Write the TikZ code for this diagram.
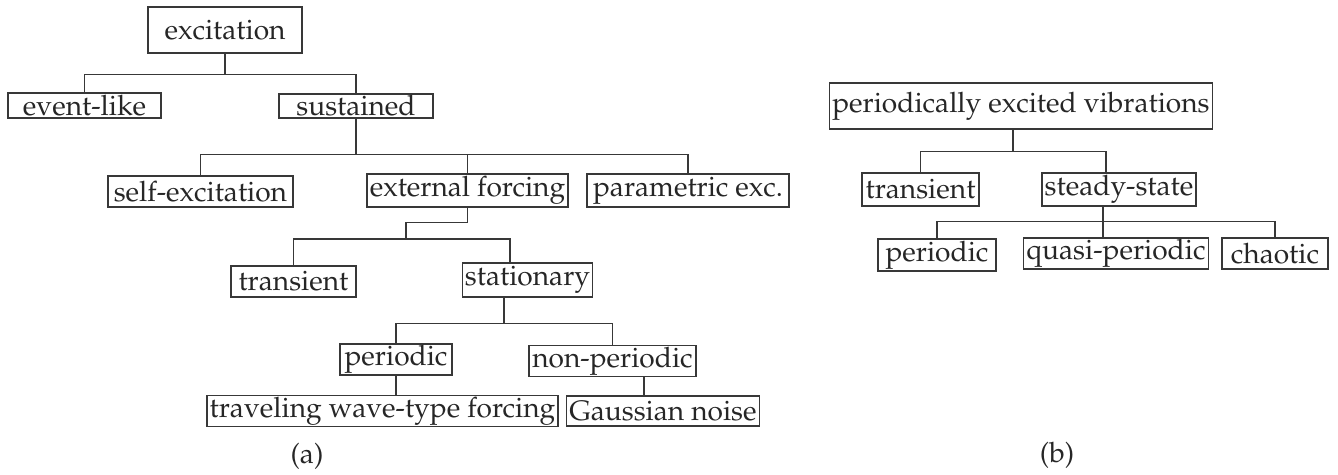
\documentclass[tikz,border=0pt]{standalone}
\usepackage[T1]{fontenc}
\usepackage{mathpazo}
\usepackage{tikz}
\tikzset{box/.style = {draw, inner xsep=1pt, inner ysep=0.5pt}}
\definecolor{mgray}{rgb}{0.22, 0.22, 0.22}

\begin{document}
\begin{tikzpicture}[line width=0.5pt, mgray, text=black!85,
                    every node/.style={font=\fontsize{10.3}{12}\selectfont}]
      \useasboundingbox (0, 0) rectangle (17.22, 6.113);

      % (a) excitation tree
      \node [box, minimum width=1.982cm, minimum height=0.592cm] (exc) at (2.896, 5.727) {excitation};
      \node [box, minimum width=1.969cm, minimum height=0.322cm] (evt) at (1.088, 4.756) {event-like};
      \node [box, minimum width=1.982cm, minimum height=0.309cm] (sus) at (4.582, 4.749) {sustained};

      \node [box, minimum width=2.381cm, minimum height=0.399cm] (self) at (2.580, 3.649) {self-excitation};
      \node [box, minimum width=2.587cm, minimum height=0.425cm] (ext) at (6.017, 3.662) {external forcing};
      \node [box, minimum width=2.600cm, minimum height=0.425cm] (par) at (8.855, 3.662) {parametric exc.};

      \node [box, minimum width=1.609cm, minimum height=0.399cm] (tra) at (3.777, 2.490) {transient};
      \node [box, minimum width=1.660cm, minimum height=0.438cm] (sta) at (6.789, 2.510) {stationary};

      \node [box, minimum width=1.441cm, minimum height=0.373cm] (per) at (5.097, 1.486) {periodic};
      \node [box, minimum width=2.149cm, minimum height=0.386cm] (non) at (7.883, 1.467) {non-periodic};

      \node [box, minimum width=4.414cm, minimum height=0.386cm] (trv) at (4.923, 0.824) {traveling wave-type forcing};
      \node [box, minimum width=2.420cm, minimum height=0.386cm] (gau) at (8.533, 0.824) {Gaussian noise};

      \coordinate (extj) at (5.225, 3.037);

      \draw (exc.south) -- ++(0, -0.27) -| (evt.north);
      \draw (exc.south) -- ++(0, -0.27) -| (sus.north);

      \draw (sus.south) -- ++(0, -0.464) -| (self.north);
      \draw (sus.south) -- ++(0, -0.464) -| (ext.north);
      \draw (sus.south) -- ++(0, -0.464) -| (par.north);

      \draw (ext.south) -- ++(0, -0.193) -| (extj);
      \draw (extj) -| (tra.north);
      \draw (extj) -| ([xshift=-0.225cm]sta.north);

      \draw ([xshift=-0.302cm]sta.south) -- ++(0, -0.335) -| (per.north);
      \draw ([xshift=-0.302cm]sta.south) -- ++(0, -0.335) -| (non.north);

      \draw (per.south) -- (per.south |- trv.north);
      \draw ([xshift=0.405cm]non.south) -- ([xshift=0.405cm]non.south |- gau.north);

      % (b) periodically excited vibrations
      \node [box, minimum width=4.916cm, minimum height=0.592cm] (pev) at (13.140, 4.749) {periodically excited vibrations};

      \node [box, minimum width=1.506cm, minimum height=0.425cm] (btr) at (11.847, 3.674) {transient};
      \node [box, minimum width=1.931cm, minimum height=0.425cm] (sst) at (14.402, 3.674) {steady-state};

      \node [box, minimum width=1.519cm, minimum height=0.412cm] (bpe) at (12.059, 2.831) {periodic};
      \node [box, minimum width=2.368cm, minimum height=0.399cm] (qua) at (14.363, 2.851) {quasi-periodic};
      \node [box, minimum width=1.364cm, minimum height=0.399cm] (cha) at (16.409, 2.851) {chaotic};

      \draw ([xshift=-0.103cm]pev.south) -- ++(0, -0.283) -| (btr.north);
      \draw ([xshift=-0.103cm]pev.south) -- ++(0, -0.283) -| ([xshift=-0.167cm]sst.north);

      \draw ([xshift=-0.206cm]sst.south) -- ++(0, -0.193) -| (bpe.north);
      \draw ([xshift=-0.206cm]sst.south) -- ([xshift=-0.206cm]sst.south |- qua.north);
      \draw ([xshift=-0.206cm]sst.south) -- ++(0, -0.193) -| (cha.north);

      \node (la) at (3.951, 0.245) {(a)};
      \node (lb) at (13.604, 0.257) {(b)};
    \end{tikzpicture}
\end{document}
